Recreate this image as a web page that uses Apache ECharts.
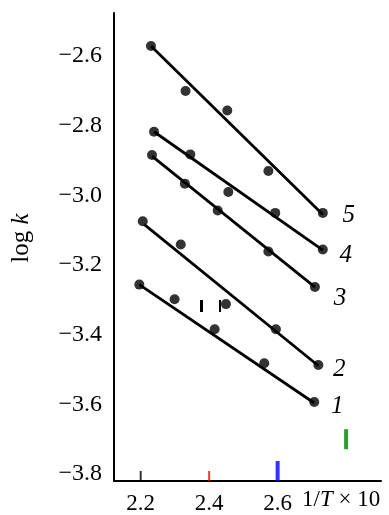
<!DOCTYPE html>
<html><head><meta charset="utf-8">
<script src="https://cdn.jsdelivr.net/npm/echarts@6/dist/echarts.min.js"></script>
<style>html,body{margin:0;padding:0;background:#fff}#c{width:389px;height:515px}</style>
</head><body><div id="c"></div>
<script>
const seriesNames = ['1', '2', '3', '4', '5'];
const pts1 = [[2.196, -3.256], [2.299, -3.298], [2.416, -3.384], [2.561, -3.482], [2.707, -3.593]];
const pts2 = [[2.206, -3.074], [2.317, -3.141], [2.449, -3.312], [2.595, -3.384], [2.719, -3.487]];
const pts3 = [[2.233, -2.884], [2.329, -2.966], [2.425, -3.043], [2.573, -3.161], [2.709, -3.263]];
const pts4 = [[2.239, -2.817], [2.345, -2.882], [2.456, -2.990], [2.593, -3.050], [2.732, -3.155]];
const pts5 = [[2.230, -2.571], [2.331, -2.700], [2.453, -2.756], [2.573, -2.930], [2.732, -3.050]];
const fit1 = [[2.196, -3.256], [2.707, -3.596]];
const fit2 = [[2.210, -3.083], [2.719, -3.489]];
const fit3 = [[2.233, -2.887], [2.709, -3.263]];
const fit4 = [[2.239, -2.817], [2.732, -3.157]];
const fit5 = [[2.230, -2.571], [2.732, -3.055]];
const xTicks = [2.2, 2.4, 2.6];
const yTicks = [-2.6, -2.8, -3.0, -3.2, -3.4, -3.6];
const yLabels = [-2.6, -2.8, -3.0, -3.2, -3.4, -3.6, -3.8];
const X_MIN = 2.122, X_MAX = 2.902, Y_MIN = -3.82, Y_MAX = -2.476;
const pts = [pts1, pts2, pts3, pts4, pts5];
const fits = [fit1, fit2, fit3, fit4, fit5];
const labelOffsets = [[23, 3], [21, 4], [25, 11], [23, 5], [26, 1]];
const FONT = '"Liberation Serif", "Times New Roman", serif';
const chart = echarts.init(document.getElementById('c'));

const series = [];
fits.forEach((f, i) => {
  series.push({
    type: 'line', data: f, symbol: 'none', showSymbol: false,
    lineStyle: {color: '#000', width: 2.8}, silent: true, z: 2,
    endLabel: {show: true, formatter: seriesNames[i], distance: 0, align: 'center', verticalAlign: 'middle',
      offset: labelOffsets[i], fontFamily: FONT, fontStyle: 'italic', fontSize: 25, color: '#000'}
  });
});
pts.forEach((p) => {
  series.push({type: 'scatter', data: p, symbol: 'circle', symbolSize: 10, itemStyle: {color: '#000'}, silent: true, z: 3});
});
// diagnostic variants
series.push({type: 'scatter', clip: false, data: [[2.2, Y_MIN]], symbol: 'rect', symbolSize: [2, 10], symbolOffset: [0, -5], itemStyle: {color: '#000'}});
series.push({type: 'scatter', clip: false, data: [[2.4, Y_MIN]], symbol: 'rect', symbolSize: [2, 10], symbolOffset: [0, -5], itemStyle: {color: 'red'}});
series.push({type: 'scatter', clip: false, data: [[2.6, Y_MIN]], symbol: 'rect', symbolSize: [4, 20], symbolOffset: [0, -10], itemStyle: {color: 'blue'}});
series.push({type: 'scatter', clip: false, data: [[2.8, -3.7]], symbol: 'rect', symbolSize: [4, 20], itemStyle: {color: 'green'}});

chart.setOption({
  animation: false,
  backgroundColor: '#fff',
  grid: {left: 114, top: 13, right: 8, bottom: 34},
  xAxis: {type: 'value', min: X_MIN, max: X_MAX,
    axisLine: {show: true, lineStyle: {color: '#000', width: 2}}, axisTick: {show: false},
    axisLabel: {customValues: xTicks, margin: 11, fontFamily: FONT, fontSize: 23, color: '#000', formatter: v => v.toFixed(1)},
    splitLine: {show: false}},
  yAxis: {type: 'value', min: Y_MIN, max: Y_MAX,
    axisLine: {show: true, lineStyle: {color: '#000', width: 2}}, axisTick: {show: false},
    axisLabel: {customValues: yLabels, margin: 12, fontFamily: FONT, fontSize: 24, color: '#000', formatter: v => '\u2212' + Math.abs(v).toFixed(1)},
    splitLine: {show: false}},
  graphic: [
    {type: 'text', left: 302, top: 488, style: {text: '{a|1/}{b|T}{a| \u00d7 10}',
      rich: {a: {fontFamily: FONT, fontSize: 23, fill: '#000'}, b: {fontFamily: FONT, fontSize: 23, fontStyle: 'italic', fill: '#000'}}}},
    {type: 'text', x: 21, y: 238, rotation: Math.PI / 2, style: {text: '{a|log }{b|k}', align: 'center', verticalAlign: 'middle',
      rich: {a: {fontFamily: FONT, fontSize: 25, fill: '#000'}, b: {fontFamily: FONT, fontSize: 25, fontStyle: 'italic', fill: '#000'}}}},
    {type: 'rect', shape: {x: 200, y: 300, width: 3, height: 12}, style: {fill: '#000'}},
    {type: 'line', shape: {x1: 220, y1: 300, x2: 220, y2: 312}, style: {stroke: '#000', lineWidth: 2}}
  ],
  series: series
});
</script></body></html>
